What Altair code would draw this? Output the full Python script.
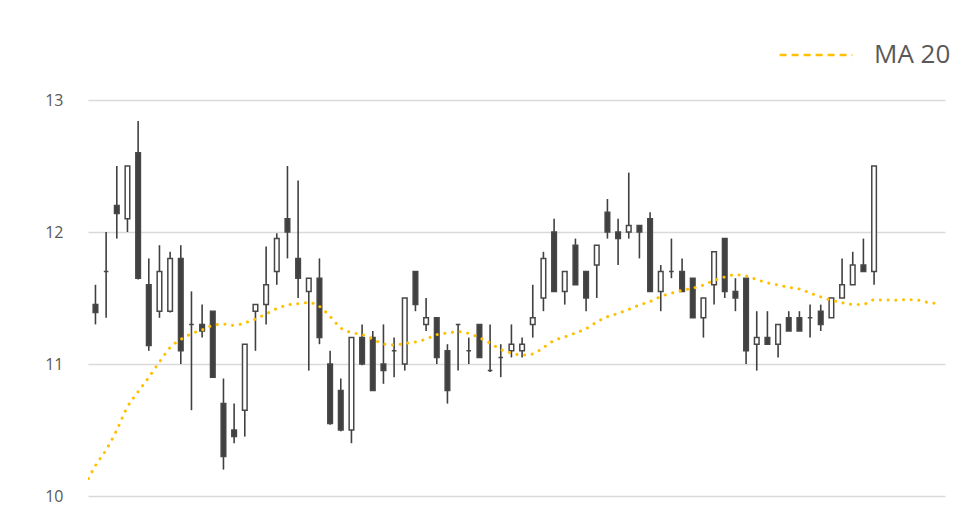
import altair as alt
import pandas as pd

# candle index (category positions)
idx = list(range(75))
opens = [11.50, 11.45, 11.70, 12.20, 12.10, 12.60, 11.60, 11.40, 11.40, 11.80,
         11.30, 11.30, 11.40, 10.70, 10.50, 10.65, 11.40, 11.45, 11.70, 12.10,
         11.80, 11.55, 11.65, 11.00, 10.80, 10.50, 11.20, 11.20, 11.00, 11.10,
         11.00, 11.70, 11.30, 11.35, 11.10, 11.30, 11.10, 11.30, 10.95, 11.05,
         11.10, 11.10, 11.30, 11.50, 12.00, 11.55, 11.90, 11.70, 11.75, 12.15,
         12.00, 12.00, 12.05, 12.10, 11.55, 11.70, 11.70, 11.65, 11.35, 11.60,
         11.95, 11.55, 11.65, 11.15, 11.20, 11.15, 11.35, 11.35, 11.35, 11.40,
         11.35, 11.50, 11.60, 11.75, 11.70]
highs = [11.70, 11.60, 12.00, 12.50, 12.50, 12.84, 11.80, 11.90, 11.85, 11.90,
         11.55, 11.45, 11.40, 10.89, 10.70, 11.15, 11.45, 11.89, 11.99, 12.50,
         12.39, 11.65, 11.80, 11.10, 10.89, 11.20, 11.30, 11.25, 11.30, 11.20,
         11.50, 11.70, 11.50, 11.35, 11.15, 11.30, 11.20, 11.30, 11.30, 11.15,
         11.30, 11.20, 11.60, 11.85, 12.10, 11.70, 11.95, 11.70, 11.90, 12.25,
         12.10, 12.45, 12.05, 12.15, 11.75, 11.95, 11.80, 11.65, 11.50, 11.85,
         11.95, 11.65, 11.65, 11.40, 11.40, 11.30, 11.40, 11.40, 11.45, 11.45,
         11.50, 11.80, 11.85, 11.95, 12.50]
lows = [11.50, 11.30, 11.35, 11.95, 12.00, 11.64, 11.10, 11.35, 11.39, 11.00,
        10.65, 11.20, 10.90, 10.20, 10.40, 10.45, 11.10, 11.30, 11.60, 11.80,
        11.50, 10.95, 11.15, 10.54, 10.49, 10.40, 10.99, 10.80, 10.85, 10.90,
        10.95, 11.40, 11.25, 11.00, 10.70, 10.95, 11.00, 11.05, 10.94, 10.90,
        11.05, 11.05, 11.20, 11.40, 11.55, 11.45, 11.60, 11.40, 11.50, 11.95,
        11.75, 11.95, 11.80, 11.55, 11.40, 11.65, 11.55, 11.35, 11.20, 11.45,
        11.50, 11.40, 11.00, 10.95, 11.15, 11.05, 11.25, 11.25, 11.20, 11.25,
        11.35, 11.50, 11.60, 11.70, 11.60]
closes = [11.70, 11.39, 11.70, 12.14, 12.50, 11.65, 11.14, 11.70, 11.80, 11.10,
          11.30, 11.25, 10.90, 10.30, 10.45, 11.15, 11.45, 11.60, 11.95, 12.00,
          11.65, 11.65, 11.20, 10.55, 10.50, 11.20, 11.00, 10.80, 10.95, 11.10,
          11.50, 11.45, 11.35, 11.05, 10.80, 11.30, 11.10, 11.05, 10.95, 11.05,
          11.15, 11.15, 11.35, 11.80, 11.55, 11.70, 11.60, 11.50, 11.90, 12.00,
          11.95, 12.05, 12.00, 11.55, 11.70, 11.70, 11.55, 11.35, 11.50, 11.85,
          11.55, 11.50, 11.10, 11.20, 11.15, 11.30, 11.25, 11.25, 11.35, 11.30,
          11.50, 11.60, 11.75, 11.70, 12.50]

# moving average 20
ma_idx = list(range(81))
ma20 = [10.08, 10.23, 10.35, 10.50, 10.675, 10.79, 10.90, 11.015, 11.125, 11.186,
        11.23, 11.258, 11.293, 11.302, 11.292, 11.312, 11.341, 11.379, 11.42, 11.447,
        11.457, 11.465, 11.436, 11.36, 11.273, 11.238, 11.223, 11.189, 11.152, 11.144,
        11.156, 11.167, 11.189, 11.222, 11.235, 11.245, 11.231, 11.199, 11.159, 11.11,
        11.083, 11.067, 11.076, 11.125, 11.178, 11.205, 11.235, 11.267, 11.318, 11.358,
        11.383, 11.414, 11.447, 11.473, 11.511, 11.536, 11.559, 11.574, 11.598, 11.633,
        11.659, 11.676, 11.667, 11.64, 11.615, 11.598, 11.581, 11.568, 11.538, 11.508,
        11.483, 11.464, 11.451, 11.453, 11.486, 11.485, 11.483, 11.488, 11.485, 11.467,
        11.458]
series_name = "MA 20"
y_ticks = [10, 11, 12, 13]

candles = pd.DataFrame({"i": idx, "open": opens, "high": highs,
                        "low": lows, "close": closes})
candles["dir"] = ["up" if c >= o else "down" for o, c in zip(opens, closes)]
ma = pd.DataFrame({"i": ma_idx, "ma": ma20, "series": [series_name] * len(ma_idx)})

xscale = alt.Scale(domain=[0.3, 80.65], nice=False, zero=False, padding=0)
yscale = alt.Scale(domain=[10, 13], nice=False, zero=False)
x = alt.X("i:Q", scale=xscale, axis=None)

wicks = alt.Chart(candles).mark_rule(color="#404040", strokeWidth=1.6, clip=True).encode(
    x=x,
    y=alt.Y("low:Q", scale=yscale,
            axis=alt.Axis(values=y_ticks, format="d", title=None, domain=False, ticks=False,
                          tickSize=0, grid=True, gridColor="#D9D9D9", gridWidth=1.3,
                          labelFontSize=16, labelColor="#595959", labelFont="Open Sans",
                          labelPadding=25)),
    y2="high:Q",
)

bodies = alt.Chart(candles).mark_bar(size=4.6, strokeWidth=1.5, stroke="#474747", clip=True).encode(
    x=x,
    y=alt.Y("open:Q", scale=yscale),
    y2="close:Q",
    fill=alt.Fill("dir:N", scale=alt.Scale(domain=["up", "down"], range=["#FFFFFF", "#404040"]),
                  legend=None),
)

maline = alt.Chart(ma).mark_line(strokeWidth=3, strokeDash=[0.1, 7.6], strokeCap="round",
                                 interpolate="monotone", clip=True).encode(
    x=x,
    y=alt.Y("ma:Q", scale=yscale),
    color=alt.Color("series:N", scale=alt.Scale(domain=[series_name], range=["#FFC000"]),
                    legend=alt.Legend(title=None, orient="none", legendX=690, legendY=-83,
                                      symbolType="stroke", symbolSize=5300,
                                      symbolStrokeWidth=2.5, symbolDash=[7, 5],
                                      labelFontSize=26, labelColor="#595959",
                                      labelFont="Open Sans", labelOffset=20)),
)

chart = alt.layer(wicks, bodies, maline).properties(
    width=857, height=396,
    autosize=alt.AutoSizeParams(type="none"),
    padding={"left": 80, "top": 92, "right": 20, "bottom": 23},
).configure(background="#FFFFFF").configure_view(stroke=None)

chart.save("out.html", embed_options={"renderer": "svg", "actions": False})
